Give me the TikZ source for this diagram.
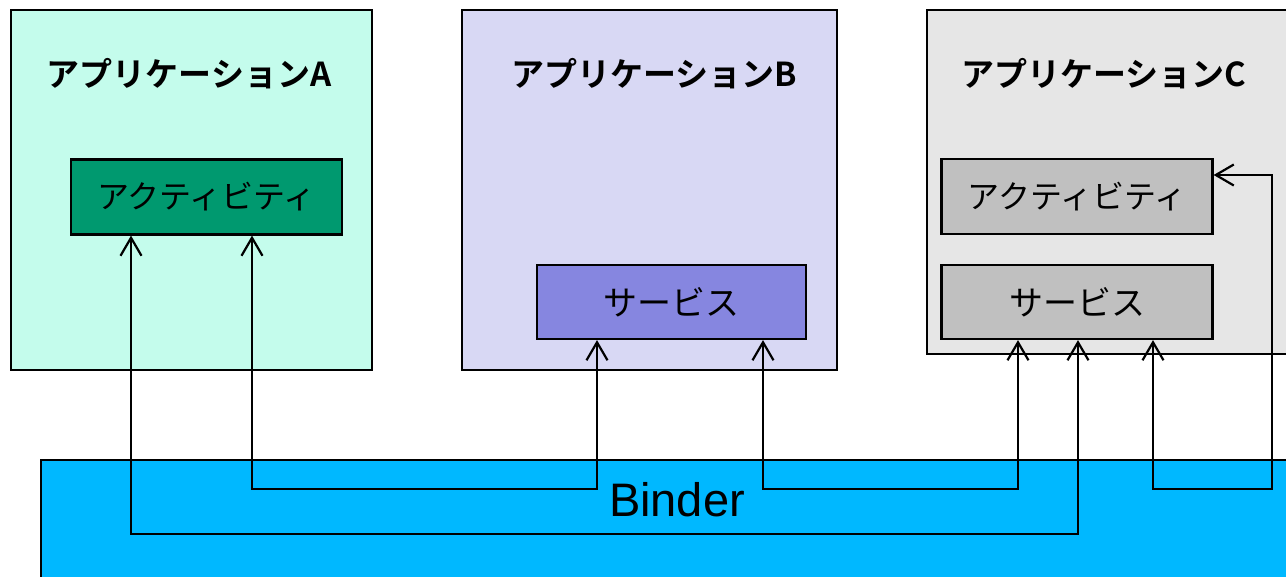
\documentclass[tikz,border=0pt]{standalone}
\usepackage{fontspec}
\usetikzlibrary{arrows.meta}
\newfontfamily\jp[BoldFont={Noto Sans CJK JP Bold}]{Noto Sans CJK JP}
\newfontfamily\lat{Liberation Sans}
\definecolor{appA}{HTML}{C4FCEC}
\definecolor{actA}{HTML}{00996F}
\definecolor{appB}{HTML}{D8D8F4}
\definecolor{svcB}{HTML}{8686E0}
\definecolor{appC}{HTML}{E6E6E6}
\definecolor{boxC}{HTML}{C0C0C0}
\definecolor{binder}{HTML}{00B8FF}
\tikzset{
  outer/.style={draw=black, line width=2.2pt},
  inner/.style={draw=black, line width=2.2pt, rectangle, inner sep=0pt,
    minimum width=271pt, minimum height=75pt,
    font=\jp\fontsize{32}{36}\selectfont},
  svctext/.style={font=\jp\fontsize{34}{38}\selectfont},
  title/.style={font=\jp\bfseries\fontsize{33}{38}\selectfont, inner sep=0pt},
  link/.style={draw=black, line width=2.2pt,
    {Straight Barb[length=18pt,width=21pt]}-{Straight Barb[length=18pt,width=21pt]}}
}
\begin{document}
\begin{tikzpicture}[x=1pt,y=-1pt]
\useasboundingbox (0,0) rectangle (1286,577);
\clip (0,0) rectangle (1286,577);

% application containers
\filldraw[outer, fill=appA] (11,10) rectangle (372,370);
\filldraw[outer, fill=appB] (462,10) rectangle (837,370);
\filldraw[outer, fill=appC] (927,10) rectangle (1300,354);

\node[title] (tA) at (189,74) {アプリケーションA};
\node[title] (tB) at (654,74) {アプリケーションB};
\node[title] (tC) at (1104,74) {アプリケーションC};

% components
\node[inner, fill=actA] (actA) at (206.5,197) {アクティビティ};
\node[inner, svctext, fill=svcB, minimum width=269pt, minimum height=74pt] (svcB) at (671.5,302) {サービス};
\node[inner, fill=boxC] (actC) at (1077,196.5) {アクティビティ};
\node[inner, svctext, fill=boxC, minimum height=74pt] (svcC) at (1077,302) {サービス};

% binder layer
\filldraw[outer, fill=binder] (41,460) rectangle (1300,600);
\node[font=\lat\fontsize{47}{52}\selectfont, inner sep=0pt] (bd) at (677,500) {Binder};

% routing points inside the binder
\coordinate (r1a) at (131,534);
\coordinate (r1b) at (1078,534);
\coordinate (r2a) at (252,489);
\coordinate (r2b) at (597,489);
\coordinate (r3a) at (763,489);
\coordinate (r3b) at (1018,489);
\coordinate (r4a) at (1153,489);
\coordinate (r4b) at (1272,489);
\coordinate (r4c) at (1272,175);

% connections through the binder
\draw[link] (actA.south -| r1a) -- (r1a) -- (r1b) -- (svcC.south -| r1b);
\draw[link] (actA.south -| r2a) -- (r2a) -- (r2b) -- (svcB.south -| r2b);
\draw[link] (svcB.south -| r3a) -- (r3a) -- (r3b) -- (svcC.south -| r3b);
\draw[link] (svcC.south -| r4a) -- (r4a) -- (r4b) -- (r4c) -- (actC.east |- r4c);
\end{tikzpicture}
\end{document}
